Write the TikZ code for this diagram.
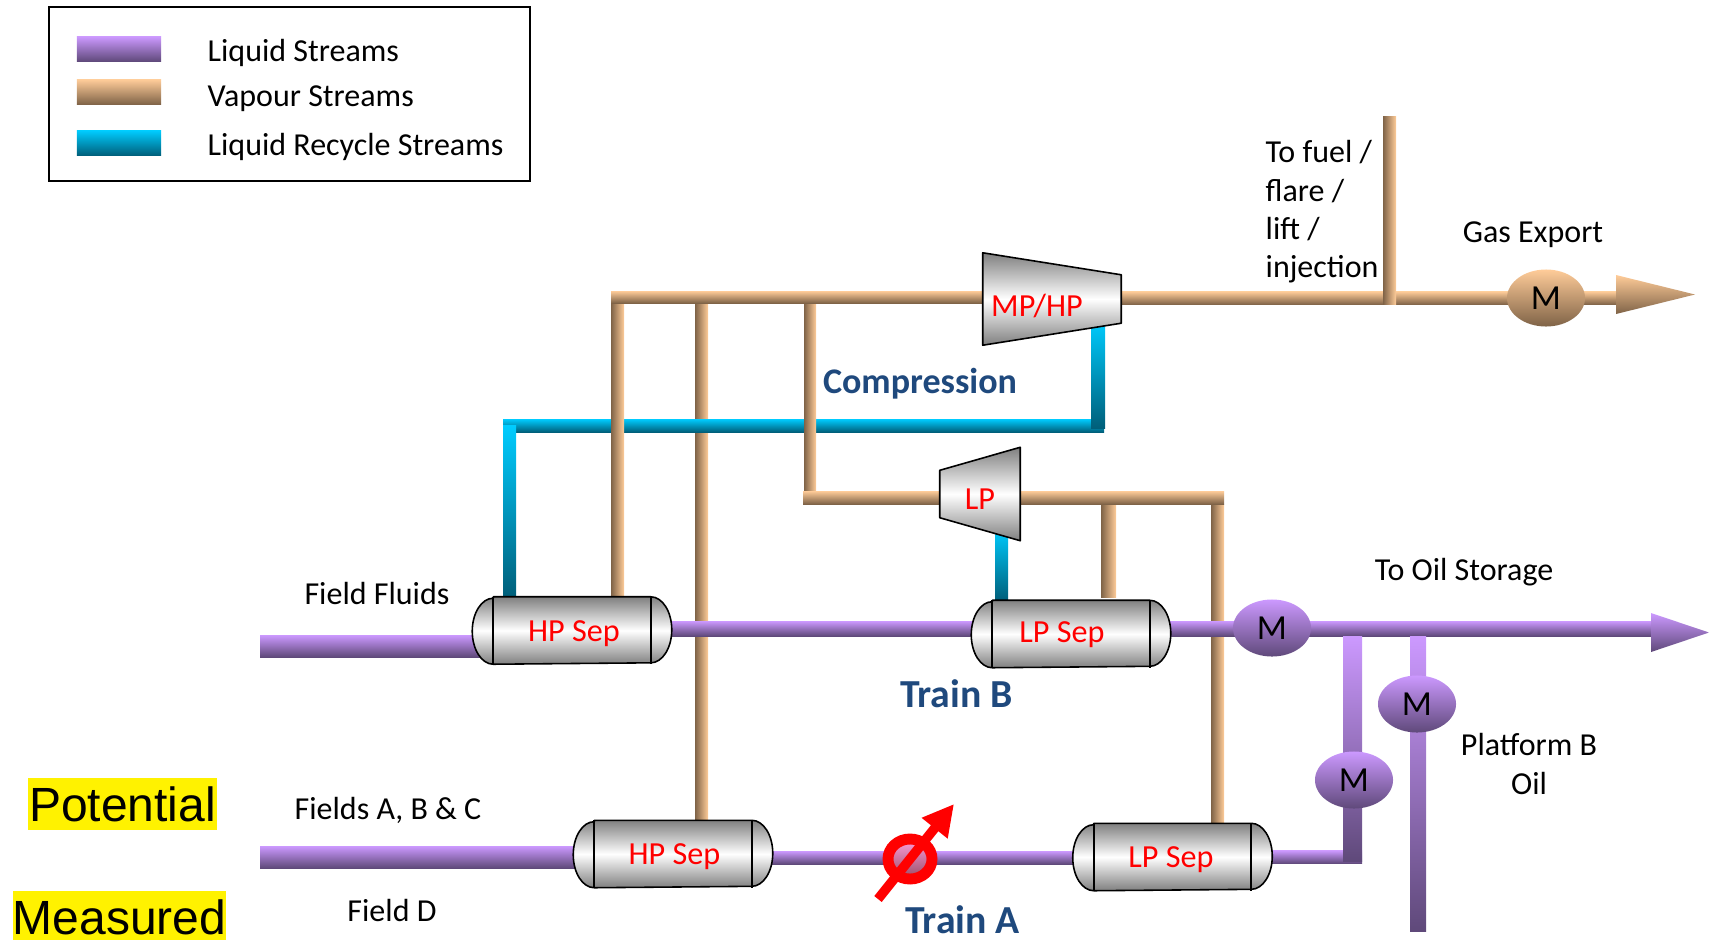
\documentclass[tikz,border=0pt]{standalone}
\usepackage{fontspec}
\setmainfont{Carlito}
\newfontfamily\arialfont{Liberation Sans}
\usetikzlibrary{shapes.geometric, arrows.meta}

\definecolor{liqtop}{HTML}{CC99FF}
\definecolor{liqbot}{HTML}{5F497A}
\definecolor{vaptop}{HTML}{FFCC99}
\definecolor{vapbot}{HTML}{7F6347}
\definecolor{rectop}{HTML}{00CCFF}
\definecolor{recbot}{HTML}{005F7A}
\definecolor{titleblue}{HTML}{1F497D}

\pgfdeclarelayer{pipes}
\pgfdeclarelayer{vessels}
\pgfsetlayers{pipes,vessels,main}

\tikzset{
    liquid/.style={top color=liqtop, bottom color=liqbot},
    vapour/.style={top color=vaptop, bottom color=vapbot},
    vapourv/.style={left color=vapbot, right color=vaptop},
    recycle/.style={top color=rectop, bottom color=recbot},
    steel/.style={top color=black!50, bottom color=black!50, middle color=white, draw=black, line width=0.45pt, line join=round},
    sepbox/.style={rectangle, minimum width=1.98cm, minimum height=0.66cm, inner sep=0pt},
    redtext/.style={inner sep=0pt, text=red, font=\fontsize{9.15}{11}\selectfont},
    plain/.style={inner sep=0pt, font=\fontsize{9.1}{10.9}\selectfont},
    title/.style={inner sep=0pt, text=titleblue, font=\fontsize{11.3}{13}\selectfont\bfseries},
    meter/.style={ellipse, minimum width=0.78cm, minimum height=0.57cm, inner sep=0pt, font=\fontsize{10}{11}\selectfont},
    swatch/.style={rectangle, minimum width=0.84cm, minimum height=0.25cm, inner sep=0pt},
    marker/.style={rectangle, fill=yellow, inner sep=0pt, minimum height=0.52cm, font=\arialfont\fontsize{13.65}{15}\selectfont}
}

\newcommand{\hflow}[4]{\draw[#1, draw=none] ([yshift=#4]#2) rectangle ([yshift=-#4]#3);}
\newcommand{\vflow}[4]{\draw[#1, draw=none] ([xshift=-#4]#2) rectangle ([xshift=#4]#3);}

\begin{document}
\begin{tikzpicture}[x=0.01cm, y=-0.01cm]
    \useasboundingbox (0, 0) rectangle (1709, 939);

    \node (legend)[rectangle, draw=black, line width=0.55pt, minimum width=4.8cm, minimum height=1.745cm] at (289.5, 94) {};
    \node (swliq)[swatch, liquid] at (119, 49) {};
    \node (swvap)[swatch, vapour] at (119, 92) {};
    \node (swrec)[swatch, recycle] at (119, 143) {};
    \node (txliq)[plain, anchor=west] at (207, 53) {Liquid Streams};
    \node (txvap)[plain, anchor=west] at (207, 99) {Vapour Streams};
    \node (txrec)[plain, anchor=west] at (207, 147) {Liquid Recycle Streams};

    \node (hpb)[sepbox] at (572, 630.5) {};
    \node (lpb)[sepbox] at (1071, 634) {};
    \node (hpa)[sepbox] at (673, 854) {};
    \node (lpa)[sepbox] at (1172.5, 857) {};

    \node (mphp)[rectangle, minimum width=1.37cm, minimum height=0.91cm, inner sep=0pt] at (1052, 299) {};
    \node (lpc)[rectangle, minimum width=0.79cm, minimum height=0.92cm, inner sep=0pt] at (980, 494) {};

    \node (mgas)[meter, vapour] at (1546, 298) {M};
    \node (moil)[meter, liquid] at (1272, 628) {M};
    \node (mbr1)[meter, liquid] at (1354, 780) {M};
    \node (mbr2)[meter, liquid] at (1417, 704) {M};

    \coordinate (vapstart) at (611, 297);
    \coordinate (gasend) at (1616, 298);
    \coordinate (j1) at (617.5, 297);
    \coordinate (j2) at (701.5, 297);
    \coordinate (j3) at (810, 297);
    \coordinate (fueltop) at (1389.5, 116);
    \coordinate (fuelbot) at (1389.5, 304);
    \coordinate (lpstart) at (803, 497.5);
    \coordinate (lpend) at (1224, 497.5);
    \coordinate (j4) at (1108.5, 504);
    \coordinate (j5) at (1217.5, 504);
    \coordinate (recleft) at (503, 425.5);
    \coordinate (recright) at (1104, 425.5);
    \coordinate (recup) at (1098, 320);
    \coordinate (reclow) at (1098, 428);
    \coordinate (recdown) at (509.5, 425.5);
    \coordinate (reclp) at (1001.5, 528);
    \coordinate (fluids) at (260, 646);
    \coordinate (fieldsabc) at (260, 857);
    \coordinate (oilrun) at (1651, 628.5);
    \coordinate (trainrun) at (1200, 857.5);
    \coordinate (br1top) at (1352.5, 636);
    \coordinate (br1bot) at (1352.5, 861);
    \coordinate (br1low) at (1362, 857);
    \coordinate (br2top) at (1418, 636);
    \coordinate (br2bot) at (1418, 931);
    \coordinate (valvetail) at (878, 899);
    \coordinate (valvetip) at (954, 804);

    \begin{pgfonlayer}{pipes}
        \vflow{vapourv}{j2}{j2 |- hpa.north}{0.065cm}
        \hflow{recycle}{recleft}{recright}{0.065cm}
        \vflow{recycle}{recdown}{recdown |- hpb.north}{0.065cm}
        \vflow{recycle}{recup}{reclow}{0.07cm}
        \vflow{recycle}{reclp}{reclp |- lpb.north}{0.065cm}
        \vflow{vapourv}{j1}{j1 |- hpb.north}{0.065cm}
        \vflow{vapourv}{j3}{j3 |- lpstart}{0.06cm}
        \vflow{vapourv}{j4}{1108.5, 597}{0.075cm}
        \vflow{vapourv}{j5}{j5 |- lpa.north}{0.065cm}
        \hflow{vapour}{vapstart}{mphp.center |- vapstart}{0.06cm}
        \hflow{vapour}{lpstart}{lpend}{0.065cm}
        \hflow{vapour}{mphp.center |- gasend}{gasend}{0.065cm}
        \vflow{vapourv}{fueltop}{fuelbot}{0.065cm}
        \hflow{liquid}{fluids}{hpb.center |- fluids}{0.11cm}
        \hflow{liquid}{hpb.center |- oilrun}{lpb.center |- oilrun}{0.075cm}
        \hflow{liquid}{lpb.center |- oilrun}{oilrun}{0.075cm}
        \hflow{liquid}{fieldsabc}{hpa.center |- fieldsabc}{0.11cm}
        \hflow{liquid}{hpa.center |- trainrun}{trainrun}{0.065cm}
        \hflow{liquid}{trainrun}{lpa.center |- trainrun}{0.065cm}
        \hflow{liquid}{lpa.center |- br1low}{br1low}{0.065cm}
        \vflow{liquid}{br1top}{br1bot}{0.095cm}
        \vflow{liquid}{br2top}{br2bot}{0.08cm}
        \draw[vapour, draw=none] (1616, 275) -- (1695, 294.5) -- (1616, 314) -- cycle;
        \draw[liquid, draw=none] (1651, 613) -- (1709, 632.5) -- (1651, 652) -- cycle;
    \end{pgfonlayer}

    \begin{pgfonlayer}{vessels}
        \foreach \sep in {hpb, lpb, hpa, lpa} {
            \draw[steel] ([xshift=0.21cm]\sep.north west) -- ([xshift=-0.21cm]\sep.north east)
                arc[start angle=90, end angle=-90, x radius=0.21cm, y radius=0.33cm]
                -- ([xshift=0.21cm]\sep.south west)
                arc[start angle=270, end angle=90, x radius=0.21cm, y radius=0.33cm] -- cycle;
            \draw[line width=0.45pt] ([xshift=0.21cm]\sep.north west) -- ([xshift=0.21cm]\sep.south west);
            \draw[line width=0.45pt] ([xshift=-0.21cm]\sep.north east) -- ([xshift=-0.21cm]\sep.south east);
        }
        \draw[steel] (mphp.north west) -- ([yshift=-0.22cm]mphp.north east) -- ([yshift=0.22cm]mphp.south east) -- (mphp.south west) -- cycle;
        \draw[steel] (lpc.north east) -- (lpc.south east) -- ([yshift=0.23cm]lpc.south west) -- ([yshift=-0.23cm]lpc.north west) -- cycle;
    \end{pgfonlayer}

    \node (hpbtext)[redtext] at (574, 634) {HP Sep};
    \node (lpbtext)[redtext] at (1062, 635) {LP Sep};
    \node (hpatext)[redtext] at (674.5, 857) {HP Sep};
    \node (lpatext)[redtext] at (1171, 860) {LP Sep};
    \node (mphptext)[redtext] at (1037, 306) {MP/HP};
    \node (lpctext)[redtext] at (980, 499) {LP};

    \node (valve)[ellipse, draw=red, line width=3.1pt, minimum width=0.44cm, minimum height=0.4cm, inner sep=0pt, top color=pink!70!magenta!80, bottom color=black!45!purple!70] at (910, 859) {};
    \draw[red, line width=2.7pt, -{Triangle[length=0.31cm, width=0.31cm]}] (valvetail) -- (valvetip);

    \node (compression)[title, font=\fontsize{10.25}{12}\selectfont\bfseries] at (920, 384) {Compression};
    \node (trainb)[title] at (956.5, 694) {Train B};
    \node (traina)[title] at (962.5, 920) {Train A};

    \node (fuel)[plain, anchor=west, align=left] at (1265, 212) {To fuel /\\flare /\\lift /\\injection};
    \node (gas)[plain] at (1533, 235) {Gas Export};
    \node (oil)[plain] at (1464, 572) {To Oil Storage};
    \node (platb)[plain, align=center] at (1529, 764) {Platform B\\Oil};
    \node (ffluids)[plain] at (377, 593) {Field Fluids};
    \node (fabc)[plain] at (388, 810) {Fields A, B \& C};
    \node (fd)[plain] at (392, 910) {Field D};

    \node (potential)[marker, minimum width=1.88cm] at (122.5, 804) {Potential};
    \node (measured)[marker, minimum width=2.13cm] at (119.5, 917) {Measured};
\end{tikzpicture}
\end{document}
